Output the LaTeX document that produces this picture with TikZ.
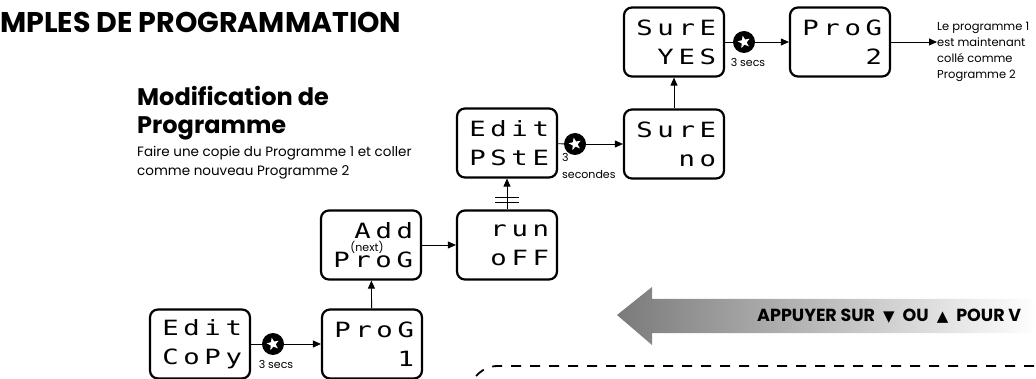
\documentclass[tikz,border=0pt]{standalone}
\usepackage{fontspec}
\setmainfont{Poppins}
\newfontfamily\lcdfont[FakeStretch=1.3,LetterSpace=22]{DejaVu Sans Mono}
\newfontfamily\symfont{DejaVu Sans}
\usetikzlibrary{arrows.meta,shapes.geometric}

\begin{document}
\begin{tikzpicture}[x=1pt, y=-1pt,
    display/.style={draw, line width=2.2pt, rounded corners=8pt,
        minimum width=100pt, minimum height=69pt, text width=84pt,
        align=right, inner sep=0pt,
        font=\fontsize{21}{29}\selectfont\lcdfont},
    hold/.style={circle, fill=black, minimum size=22pt, inner sep=0pt,
        path picture={\node[star, star points=5, star point ratio=2.4,
            fill=white, minimum size=13pt, inner sep=0pt, rotate=12]
            at (path picture bounding box.center) {};}},
    note/.style={font=\fontsize{11}{17}\selectfont, inner sep=0pt},
    flow/.style={-{Triangle[length=8pt,width=7pt]}, line width=0.9pt},
    link/.style={line width=0.9pt}
]
\useasboundingbox (0,0) rectangle (1036,379);
% headings
\node[anchor=west, inner sep=0pt, font=\fontsize{28.5}{30}\selectfont\bfseries]
    (title) at (0,22) {MPLES DE PROGRAMMATION};
\node[anchor=west, inner sep=0pt, align=left,
    font=\fontsize{24}{28}\selectfont\bfseries]
    (heading) at (137,113) {Modification de\\Programme};
\node[anchor=west, inner sep=0pt, align=left,
    font=\fontsize{13.5}{19}\selectfont]
    (intro) at (137,162.5) {Faire une copie du Programme 1 et coller\\comme nouveau Programme 2};
% displays
\node[display] (copy) at (200,344) {Edit\\CoPy};
\node[display] (prog1) at (372,344) {ProG\\1};
\node[display] (addprog) at (371,245) {Add\\ProG};
\node[font=\fontsize{11}{12}\selectfont, inner sep=0pt] (nextlbl) at (367,247) {(next)};
\node[display] (runoff) at (507,245) {run\\oFF};
\node[display] (paste) at (507,143) {Edit\\PStE};
\node[display] (sureno) at (674,144) {SurE\\no};
\node[display] (sureyes) at (674,42) {SurE\\YES};
\node[display] (prog2) at (840,42) {ProG\\2};
% hold buttons
\node[hold] (hold1) at (273,344) {};
\node[hold] (hold2) at (575,144) {};
\node[hold] (hold3) at (744,42) {};
\node[note] (secs1) at (276,364) {3 secs};
\node[note, anchor=west, align=left] (secs2) at (562,166) {3\\secondes};
\node[note] (secs3) at (748,62) {3 secs};
\node[anchor=west, inner sep=0pt, align=left, font=\fontsize{11.5}{16}\selectfont]
    (result) at (937,52) {Le programme 1\\est maintenant\\collé comme\\Programme 2};
% connectors
\draw[link] (copy) -- (hold1);
\draw[flow] (hold1) -- (prog1);
\draw[flow] (prog1) -- (addprog);
\draw[flow] (addprog) -- (runoff);
\draw[flow] (runoff) -- coordinate[pos=0.24] (bar1) coordinate[pos=0.39] (bar2) (paste);
\draw[link] ([xshift=-12pt]bar1) -- ([xshift=12pt]bar1);
\draw[link] ([xshift=-12pt]bar2) -- ([xshift=12pt]bar2);
\draw[link] (paste) -- (hold2);
\draw[flow] (hold2) -- (sureno);
\draw[flow] (sureno) -- (sureyes);
\draw[link] (sureyes) -- (hold3);
\draw[flow] (hold3) -- (prog2);
\draw[flow] (prog2) -- (prog2 -| result.west);
% scroll hint
\shade[left color=black!52, right color=white]
    (617,315) -- (652,287) -- (652,299) -- (1036,299) -- (1036,333)
    -- (652,333) -- (652,345) -- cycle;
\node[anchor=west, inner sep=0pt, font=\fontsize{17.5}{20}\selectfont\bfseries]
    (hint) at (757,316) {APPUYER SUR\hspace{8pt}{\symfont\fontsize{15}{18}\selectfont ▼}\hspace{8pt}OU\hspace{8pt}{\symfont\fontsize{15}{18}\selectfont ▲}\hspace{8pt}POUR V};
\draw[line width=1.8pt, dash pattern=on 10pt off 9pt]
    (466,392) to[out=65, in=180] (498,366) -- (1040,366);
\end{tikzpicture}
\end{document}
